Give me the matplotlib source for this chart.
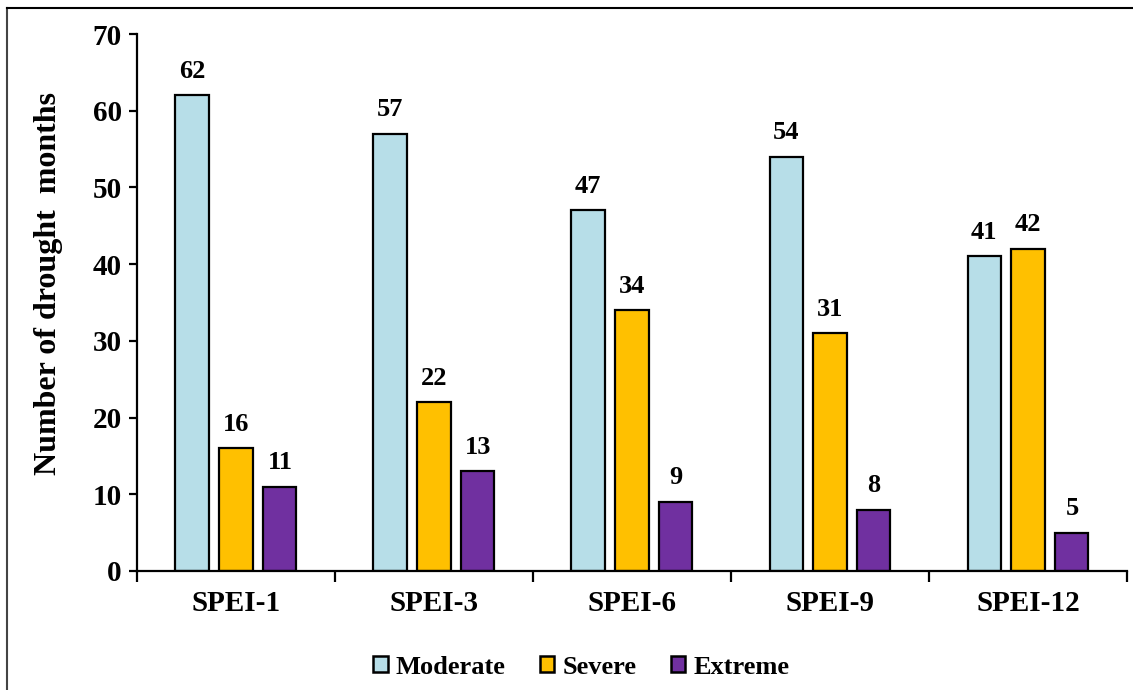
import numpy as np
import matplotlib.pyplot as plt
from matplotlib.lines import Line2D

# --- Data ---
categories = ['SPEI-1', 'SPEI-3', 'SPEI-6', 'SPEI-9', 'SPEI-12']
moderate = [62, 57, 47, 54, 41]
severe = [16, 22, 34, 31, 42]
extreme = [11, 13, 9, 8, 5]

series = [('Moderate', moderate, '#B7DEE8'),
          ('Severe', severe, '#FFC000'),
          ('Extreme', extreme, '#7030A0')]

plt.rcParams['font.family'] = ['Liberation Serif', 'DejaVu Serif']
plt.rcParams['font.weight'] = 'bold'

fig = plt.figure(figsize=(11.33, 6.9), dpi=100)
ax = fig.add_axes([0.1209, 0.1725, 0.8738, 0.7782])

x = np.arange(len(categories))
width = 0.167
step = 0.222

for k, (name, vals, color) in enumerate(series):
    pos = x + (k - 1) * step
    bars = ax.bar(pos, vals, width, color=color, edgecolor='black', linewidth=1.6, label=name)
    for b, v in zip(bars, vals):
        ax.annotate(str(v), (b.get_x() + b.get_width() / 2, v), xytext=(0, 9),
                    textcoords='offset points', ha='center', va='bottom',
                    fontsize=19, fontweight='bold')

ax.set_xlim(-0.5, len(categories) - 0.5)
ax.set_ylim(0, 70)
ax.set_yticks(range(0, 71, 10))
ax.tick_params(axis='y', labelsize=21, width=1.6, length=6, direction='out', pad=5)

# category labels centred, ticks on group boundaries
ax.set_xticks(x)
ax.set_xticklabels(categories, fontsize=21, fontweight='bold')
ax.tick_params(axis='x', which='major', length=0, pad=14)
ax.set_xticks(np.arange(-0.5, len(categories)), minor=True)
ax.tick_params(axis='x', which='minor', length=8, width=1.6, direction='out')

for s in ['top', 'right']:
    ax.spines[s].set_visible(False)
for s in ['left', 'bottom']:
    ax.spines[s].set_linewidth(1.6)

ax.set_ylabel('Number of drought  months', fontsize=23, fontweight='bold')
ax.yaxis.set_label_coords(-0.075, 0.536)

handles = [plt.Rectangle((0, 0), 1, 1, facecolor=c, edgecolor='black', linewidth=1.8)
           for _, _, c in series]
fig.legend(handles, [n for n, _, _ in series], loc='center', bbox_to_anchor=(0.513, 0.033),
           ncol=3, frameon=False, fontsize=19, handlelength=0.55, handleheight=0.55,
           handletextpad=0.3, columnspacing=1.3)

# frame lines around the figure (left and top only)
fig.add_artist(Line2D([7 / 1133, 7 / 1133], [0, 1 - 8 / 690], color='#444444', linewidth=1.5,
                      transform=fig.transFigure))
fig.add_artist(Line2D([7 / 1133, 1], [1 - 8 / 690, 1 - 8 / 690], color='black', linewidth=1.5,
                      transform=fig.transFigure))

fig.savefig('out.png', dpi=100)
